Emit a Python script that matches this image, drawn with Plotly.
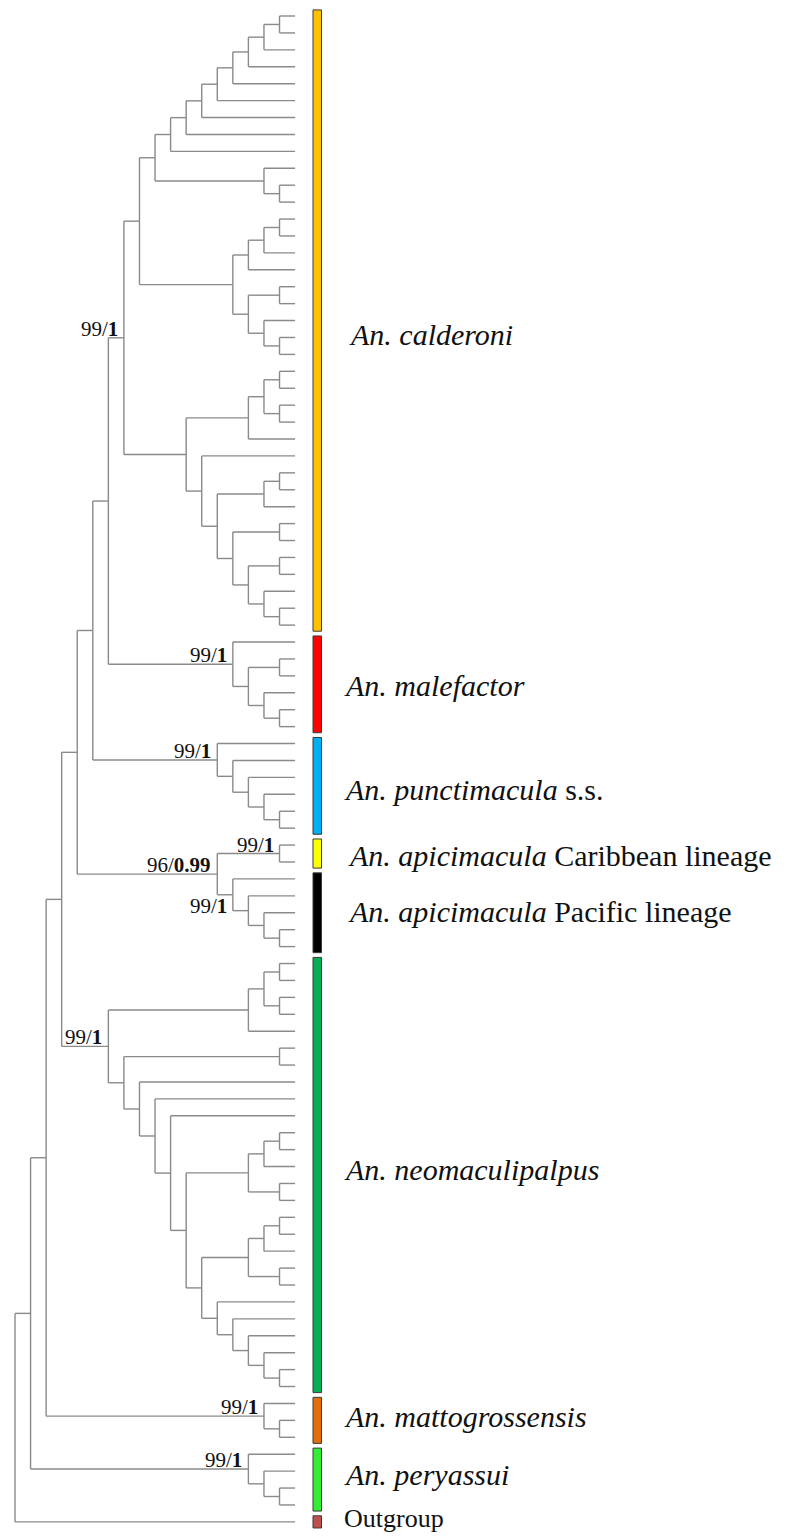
import plotly.graph_objects as go

# ---------------- data: topology of each lineage (Newick, anonymous tips "t"; node labels = ML bootstrap / BI posterior) ----
CAL_LADDER = "(" * 8 + "t,t)" + ",t)" * 7                       # 9 tips
CAL_A1 = "(" + CAL_LADDER + ",(t,(t,t)))"                       # 12 tips
CAL_A2 = "((((t,t),t),t),((t,t),(t,(t,t))))"                    # 9 tips
CAL_B1 = "(((t,t),(t,t)),t)"                                    # 5 tips
CAL_B2 = "(t,(((t,t),t),((t,t),((t,t),(t,(t,t))))))"            # 11 tips
CALDERONI = "((" + CAL_A1 + "," + CAL_A2 + "),(" + CAL_B1 + "," + CAL_B2 + "))99/1"
MALEFACTOR = "(t,((t,t),(t,(t,t))))99/1"
PUNCTIMACULA = "(t,(t,(t,(t,(t,t)))))99/1"
APICI_CARIB = "(t,t)99/1"
APICI_PACIFIC = "(t,(t,(t,(t,t))))99/1"
NEO_A = "(((t,t),(t,t)),t)"                                     # 5 tips
NEO_C1 = "(((t,t),t),(t,t))"                                    # 5 tips
NEO_C2 = "(((t,t),t),(t,t))"                                    # 5 tips
NEO_LADDER = "(t,(t,(t,(t,(t,t)))))"                            # 6 tips
NEO_B = "((t,t),(t,(t,(t,(" + NEO_C1 + ",(" + NEO_C2 + "," + NEO_LADDER + "))))))"
NEOMACULIPALPUS = "(" + NEO_A + "," + NEO_B + ")99/1"
MATTOGROSSENSIS = "(t,(t,t))99/1"
PERYASSUI = "(t,(t,(t,t)))99/1"
OUTGROUP = "t"
APICIMACULA_SUPPORT = "96/0.99"

GROUP_NEWICK = [CALDERONI, MALEFACTOR, PUNCTIMACULA, APICI_CARIB, APICI_PACIFIC,
                NEOMACULIPALPUS, MATTOGROSSENSIS, PERYASSUI, OUTGROUP]
GROUP_LABELS = ["<i>An. calderoni</i>", "<i>An. malefactor</i>", "<i>An. punctimacula</i> s.s.",
                "<i>An. apicimacula</i> Caribbean lineage", "<i>An. apicimacula</i> Pacific lineage",
                "<i>An. neomaculipalpus</i>", "<i>An. mattogrossensis</i>", "<i>An. peryassui</i>", "Outgroup"]
GROUP_COLORS = ["#FFC000", "#FF0000", "#00B0F0", "#FFFF00", "#000000",
                "#00B050", "#E46C0A", "#33EE33", "#C0504D"]

# label placement tweaks (style): vertical offset in tip units, horizontal in pixels, font size
LABEL_DY = [0.8, 0.05, 0.2, 0.1, -0.1, -0.3, -0.25, -0.3, -0.2]
LABEL_DXPX = [5, 0, 0, 4, 4, 0, 0, 0, 0]
LABEL_SIZE = [30, 30, 30, 30, 30, 30, 30, 30, 26]


# ---------------- Newick parsing ----------------
def parse(s):
    pos = 0

    def label():
        nonlocal pos
        st = pos
        while pos < len(s) and s[pos] not in ",()":
            pos += 1
        return s[st:pos]

    def node():
        nonlocal pos
        if s[pos] == "(":
            pos += 1
            kids = [node()]
            while s[pos] == ",":
                pos += 1
                kids.append(node())
            assert s[pos] == ")"
            pos += 1
            return {"kids": kids, "label": label()}
        label()
        return {"kids": [], "label": ""}

    n = node()
    assert pos == len(s), (s, pos)
    return n


groups = [parse(g) for g in GROUP_NEWICK]
# backbone: ((((((((cal,mal),punct),(carib,pacific)),neo),matto),peryassui),outgroup)
api = {"kids": [groups[3], groups[4]], "label": APICIMACULA_SUPPORT}
tree = groups[0]
for g in [groups[1], groups[2], api, groups[5], groups[6], groups[7], groups[8]]:
    tree = {"kids": [tree, g], "label": ""}

# ---------------- layout (cladogram: node depth from subtree height) ----------------
tip_counter = [0]


def layout(n):
    if not n["kids"]:
        n["y"] = tip_counter[0]
        tip_counter[0] += 1
        n["h"] = 0
        return
    for k in n["kids"]:
        layout(k)
    n["h"] = max(k["h"] for k in n["kids"]) + 1
    n["y"] = (n["kids"][0]["y"] + n["kids"][-1]["y"]) / 2


layout(tree)
H = tree["h"]


def set_x(n):
    n["x"] = H - n["h"]
    for k in n["kids"]:
        set_x(k)


set_x(tree)

xs, ys = [], []
supports = []


def collect(n, parent=None, idx=0):
    if n["kids"]:
        xs.extend([n["x"], n["x"], None])
        ys.extend([n["kids"][0]["y"], n["kids"][-1]["y"], None])
        for i, k in enumerate(n["kids"]):
            xs.extend([n["x"], k["x"], None])
            ys.extend([k["y"], k["y"], None])
            collect(k, n, i)
        if n["label"]:
            # lower child of a labelled node: put its label under the branch to avoid a clash
            below = parent is not None and parent["label"] != "" and idx == len(parent["kids"]) - 1
            supports.append((n, below))


collect(tree)

# ---------------- figure ----------------
# page body has an 8px margin, so the figure is drawn 8px in from the window edges
PAGE_MARGIN = 8
W, HPX = 789 - PAGE_MARGIN, 1536 - PAGE_MARGIN
X0, DX = 15.0 - PAGE_MARGIN, 15.56     # pixel of root, pixels per level
Y0, DY = 16.0 - PAGE_MARGIN, 16.92     # pixel of first tip, pixels per tip

fig = go.Figure()
fig.add_trace(go.Scatter(x=xs, y=ys, mode="lines",
                         line=dict(color="#8a8a8a", width=1.4),
                         hoverinfo="skip", showlegend=False))

annotations = []
for n, below in supports:
    ml, bi = n["label"].split("/")
    annotations.append(dict(
        x=n["x"], y=n["y"], xref="x", yref="y",
        text=f"{ml}/<b>{bi}</b>", showarrow=False,
        xanchor="right", yanchor="middle",
        xshift=-4, yshift=-11 if below else 9,
        font=dict(family="Liberation Serif", size=21, color="#111111")))

shapes = []
start = 0
BAR_X0 = (313 - PAGE_MARGIN - X0) / DX
BAR_X1 = (321.5 - PAGE_MARGIN - X0) / DX
for gi, g in enumerate(groups):
    cnt = GROUP_NEWICK[gi].count("t")
    first, last = start, start + cnt - 1
    start += cnt
    shapes.append(dict(type="rect", xref="x", yref="y",
                       x0=BAR_X0, x1=BAR_X1, y0=first - 0.36, y1=last + 0.36,
                       fillcolor=GROUP_COLORS[gi], line=dict(color="#3a3a3a", width=1)))
    ymid = (first + last) / 2 + LABEL_DY[gi]
    annotations.append(dict(
        x=BAR_X1 + 1.3, y=ymid, xref="x", yref="y",
        text=GROUP_LABELS[gi], showarrow=False,
        xanchor="left", yanchor="middle", xshift=LABEL_DXPX[gi],
        font=dict(family="Liberation Serif", size=LABEL_SIZE[gi], color="#111111")))

fig.update_layout(
    width=W, height=HPX,
    margin=dict(l=0, r=0, t=0, b=0),
    plot_bgcolor="white", paper_bgcolor="white",
    xaxis=dict(range=[-X0 / DX, (W - X0) / DX], visible=False, fixedrange=True),
    yaxis=dict(range=[(HPX - Y0) / DY, -Y0 / DY], visible=False, fixedrange=True),
    shapes=shapes, annotations=annotations, showlegend=False,
)

fig.write_html("out.html")
